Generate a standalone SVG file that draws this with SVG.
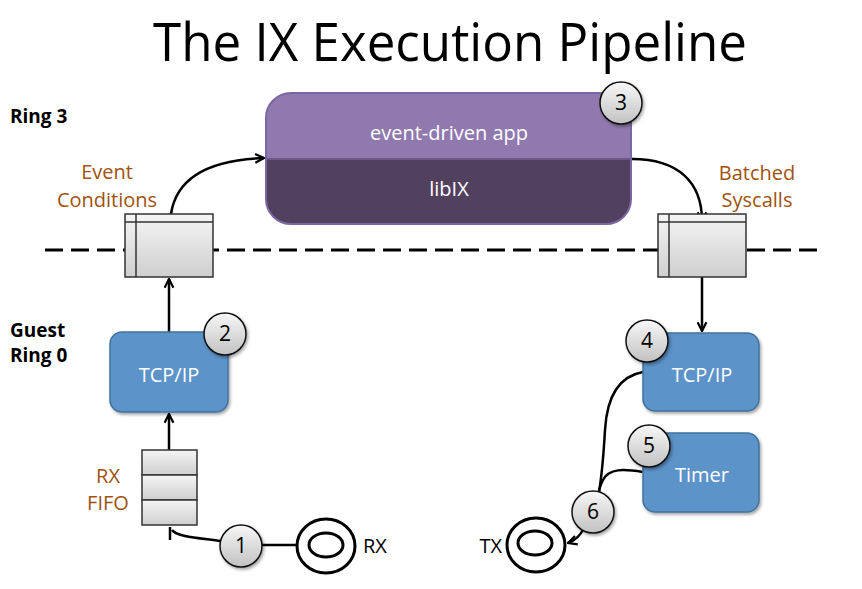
<svg xmlns="http://www.w3.org/2000/svg" width="862" height="589" viewBox="0 0 862 589">
<defs>
<style>
text{font-family:"Open Sans","Liberation Sans",sans-serif}
.title{font-size:53px;fill:#000}
.ring{font-size:19px;font-weight:bold;fill:#000}
.lbl{font-size:20px;fill:#a0520f;text-anchor:middle}
.wt{font-size:20px;fill:#fff;text-anchor:middle}
.num{font-size:21px;fill:#000;text-anchor:middle}
.io{font-size:20px;fill:#000}
.blue{fill:#5b93c9;stroke:#41729f;stroke-width:1.5}
.buf{fill:url(#gBuf);stroke:#333;stroke-width:1.5}
.bline{stroke:#333;stroke-width:1.5}
.circ{fill:url(#gCirc);stroke:#111;stroke-width:1.5}
.con{fill:none;stroke:#000;stroke-width:2.5}
.ringo{fill:#fff;stroke:#000;stroke-width:3}
</style>
<linearGradient id="gBuf" x1="0" y1="0" x2="0" y2="1">
<stop offset="0" stop-color="#f5f5f5"/><stop offset="1" stop-color="#cfcfcf"/>
</linearGradient>
<linearGradient id="gCirc" x1="0" y1="0" x2="0" y2="1">
<stop offset="0" stop-color="#f7f7f7"/><stop offset="1" stop-color="#c2c2c2"/>
</linearGradient>
<filter id="sh" x="-20%" y="-20%" width="150%" height="150%">
<feDropShadow dx="1.5" dy="2" stdDeviation="1.5" flood-color="#000" flood-opacity="0.35"/>
</filter>
<marker id="ah" viewBox="0 0 10 10" refX="9" refY="5" markerWidth="11" markerHeight="11" markerUnits="userSpaceOnUse" orient="auto">
<path d="M1,1 L9,5 L1,9" fill="none" stroke="#000" stroke-width="2"/>
</marker>
</defs>

<text class="title" x="153" y="61" textLength="594" lengthAdjust="spacingAndGlyphs">The IX Execution Pipeline</text>

<g id="ring-labels">
<text class="ring" x="10" y="123">Ring 3</text>
<text class="ring" x="10" y="337">Guest</text>
<text class="ring" x="10" y="362">Ring 0</text>
</g>

<line x1="45" y1="250" x2="825" y2="250" stroke="#000" stroke-width="3" stroke-dasharray="18 8"/>

<g id="connectors">
<path class="con" d="M171,214 C176,180 205,160 264,158" marker-end="url(#ah)"/>
<path class="con" d="M632,159 C678,159 702,182 702,221" marker-end="url(#ah)"/>
<line class="con" x1="169" y1="332" x2="169" y2="279" marker-end="url(#ah)"/>
<line class="con" x1="169" y1="450" x2="169" y2="414" marker-end="url(#ah)"/>
<line class="con" x1="702" y1="277" x2="702" y2="331" marker-end="url(#ah)"/>
<path class="con" d="M221,541 C200,538 177,537 172,530"/>
<line class="con" x1="170" y1="527" x2="170" y2="540"/>
<line class="con" x1="261" y1="545" x2="298" y2="545"/>
<path class="con" d="M643,372 C620,376 607,395 605,430 C603,465 601,480 599,492"/>
<path class="con" d="M643,472 C624,469 609,468 603,480 C600,486 599,490 599,492"/>
<path class="con" d="M584,528 C580,536 574,541 568,543" marker-end="url(#ah)"/>
</g>

<g id="app">
<path d="M291,93 H606 A25,25 0 0 1 631,118 V159 H266 V118 A25,25 0 0 1 291,93 Z" fill="#9079ae"/>
<path d="M266,159 H631 V199 A25,25 0 0 1 606,224 H291 A25,25 0 0 1 266,199 Z" fill="#52405f"/>
<line x1="266" y1="159" x2="631" y2="159" stroke="#6a5788" stroke-width="2"/>
<rect x="266" y="93" width="365" height="131" rx="25" fill="none" stroke="#7a66a0" stroke-width="2"/>
<text class="wt" x="449" y="140">event-driven app</text>
<text class="wt" x="449" y="196">libIX</text>
</g>

<g id="buf-left">
<rect class="buf" x="125" y="214" width="88" height="63"/>
<line class="bline" x1="136" y1="214" x2="136" y2="277"/>
<line class="bline" x1="125" y1="222" x2="213" y2="222"/>
</g>
<g id="buf-right">
<rect class="buf" x="658" y="214" width="88" height="63"/>
<line class="bline" x1="669" y1="214" x2="669" y2="277"/>
<line class="bline" x1="658" y1="222" x2="746" y2="222"/>
</g>

<g id="label-event"><text class="lbl" x="107" y="179">Event</text><text class="lbl" x="107" y="207">Conditions</text></g>
<g id="label-batched"><text class="lbl" x="757" y="180">Batched</text><text class="lbl" x="757" y="207">Syscalls</text></g>
<g id="label-fifo"><text class="lbl" x="108" y="483">RX</text><text class="lbl" x="108" y="510">FIFO</text></g>

<g id="tcp-left">
<rect class="blue" x="110" y="332" width="118" height="80" rx="12" filter="url(#sh)"/>
<text class="wt" x="169" y="382">TCP/IP</text>
</g>
<g id="rx-fifo">
<rect class="buf" x="142" y="450" width="55" height="25"/>
<rect class="buf" x="142" y="475" width="55" height="25"/>
<rect class="buf" x="142" y="500" width="55" height="25"/>
</g>
<g id="tcp-right">
<rect class="blue" x="643" y="333" width="116" height="78" rx="12" filter="url(#sh)"/>
<text class="wt" x="702" y="382">TCP/IP</text>
</g>
<g id="timer">
<rect class="blue" x="643" y="433" width="116" height="79" rx="12" filter="url(#sh)"/>
<text class="wt" x="702" y="482">Timer</text>
</g>

<g id="rx-port">
<ellipse class="ringo" cx="326" cy="546" rx="29" ry="27"/>
<ellipse class="ringo" cx="326" cy="545" rx="17" ry="12"/>
<text class="io" x="363" y="553">RX</text>
</g>
<g id="tx-port">
<ellipse class="ringo" cx="536" cy="545" rx="29" ry="27"/>
<ellipse class="ringo" cx="535" cy="543" rx="17" ry="12"/>
<text class="io" x="502" y="553" text-anchor="end">TX</text>
</g>

<g id="c1"><circle class="circ" cx="241" cy="546" r="21" filter="url(#sh)"/><text class="num" x="241" y="553">1</text></g>
<g id="c2"><circle class="circ" cx="225" cy="334" r="21" filter="url(#sh)"/><text class="num" x="225" y="341">2</text></g>
<g id="c3"><circle class="circ" cx="621" cy="103" r="21" filter="url(#sh)"/><text class="num" x="621" y="110">3</text></g>
<g id="c4"><circle class="circ" cx="647" cy="341" r="21" filter="url(#sh)"/><text class="num" x="647" y="348">4</text></g>
<g id="c5"><circle class="circ" cx="649" cy="446" r="21" filter="url(#sh)"/><text class="num" x="649" y="453">5</text></g>
<g id="c6"><circle class="circ" cx="593" cy="512" r="21" filter="url(#sh)"/><text class="num" x="593" y="519">6</text></g>
</svg>
